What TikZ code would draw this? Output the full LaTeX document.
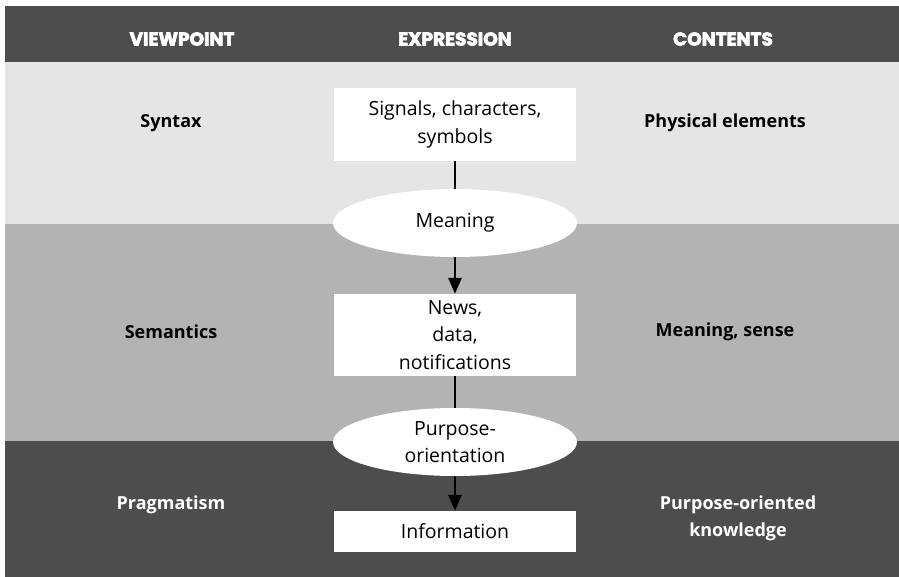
\documentclass[tikz,border=0pt]{standalone}
\usepackage{fontspec}
\setmainfont{Open Sans}
\newfontfamily\headfont{Poppins}[BoldFeatures={FakeBold=3.5}]
\usetikzlibrary{positioning,shapes.geometric,arrows.meta}

\definecolor{darkband}{HTML}{4D4D4D}
\definecolor{midband}{HTML}{B3B3B3}
\definecolor{lightband}{HTML}{E5E5E5}

\tikzset{
  head/.style={text=white, font=\headfont\bfseries\fontsize{18.5}{20}\selectfont},
  side/.style={font=\bfseries\fontsize{18}{27}\selectfont, align=center},
  stage/.style={fill=white, minimum width=242pt, align=center, inner sep=0pt,
    font=\fontsize{19.5}{27.5}\selectfont},
  via/.style={ellipse, fill=white, minimum width=244pt, minimum height=68pt,
    inner sep=0pt, align=center, font=\fontsize{19.5}{27.5}\selectfont},
  flow/.style={line width=2.8pt, -{Triangle[length=16pt,width=13pt]}}
}

\begin{document}
\begin{tikzpicture}[x=1pt,y=-1pt]
\useasboundingbox (0,0) rectangle (899,577);

\def\xa{171}
\def\xb{455}
\def\xc{725}

% bands
\fill[darkband] (5,6) rectangle (899,62);
\fill[lightband] (5,62) rectangle (899,224);
\fill[midband] (5,224) rectangle (899,441);
\fill[darkband] (5,441) rectangle (899,577);

\node[head] (hview) at (182,39) {VIEWPOINT};
\node[head] (hexpr) at (\xb,39) {EXPRESSION};
\node[head] (hcont) at (723,39) {CONTENTS};

\node[side] (syntax) at (\xa,123) {Syntax};
\node[side] (seman) at (\xa,332) {Semantics};
\node[side, text=white] (pragm) at (\xa,505) {Pragmatism};

\node[side] (phys) at (\xc,123) {Physical elements};
\node[side] (sense) at (\xc,332) {Meaning, sense};
\node[side, text=white] (know) at (738,518) {Purpose-oriented\\knowledge};

\node[stage, minimum height=73pt] (signs) at (\xb,124.5) {Signals, characters,\\symbols};
\node[stage, minimum height=82pt] (news) at (\xb,335) {News,\\data,\\notifications};
\node[stage, minimum height=41pt] (info) at (\xb,531.5) {Information};

\draw[flow] (signs) -- (news);
\draw[flow] (news) -- (info);

\node[via] (meaning) at (\xb,223) {Meaning};
\node[via] (purpose) at (\xb,442) {Purpose-\\orientation};
\end{tikzpicture}
\end{document}
